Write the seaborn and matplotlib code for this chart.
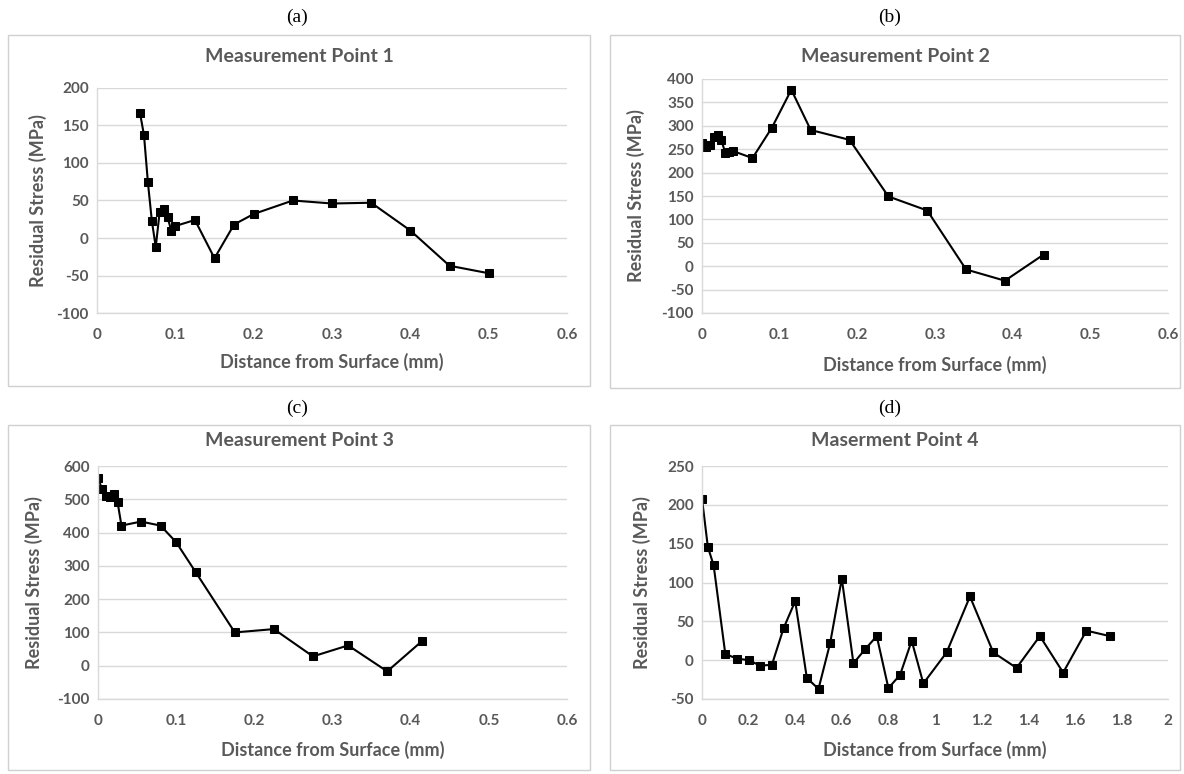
import matplotlib
matplotlib.use("Agg")
import matplotlib.pyplot as plt
import seaborn as sns
import pandas as pd
from matplotlib.patches import Rectangle

# ---------------- data ----------------
a_x = [0.055, 0.06, 0.065, 0.07, 0.075, 0.08, 0.085, 0.09, 0.095, 0.1,
       0.125, 0.15, 0.175, 0.2, 0.25, 0.3, 0.35, 0.4, 0.45, 0.5]
a_y = [166, 137, 74, 23, -12, 35, 38, 28, 9, 16,
       24, -27, 18, 32, 50, 46, 47, 10, -37, -47]

b_x = [0.0, 0.005, 0.01, 0.015, 0.02, 0.025, 0.03, 0.035, 0.04, 0.065,
       0.09, 0.115, 0.14, 0.19, 0.24, 0.29, 0.34, 0.39, 0.44]
b_y = [264, 254, 260, 277, 280, 269, 242, 245, 246, 231,
       296, 377, 291, 270, 149, 119, -7, -31, 25]

c_x = [0.0, 0.005, 0.01, 0.015, 0.02, 0.025, 0.03, 0.055, 0.08, 0.1,
       0.125, 0.175, 0.225, 0.275, 0.32, 0.37, 0.415]
c_y = [563, 532, 510, 508, 516, 492, 421, 433, 421, 371,
       281, 100, 110, 28, 61, -17, 75]

d_x = [0.0, 0.025, 0.05, 0.1, 0.15, 0.2, 0.25, 0.3, 0.35, 0.4,
       0.45, 0.5, 0.55, 0.6, 0.65, 0.7, 0.75, 0.8, 0.85, 0.9,
       0.95, 1.05, 1.15, 1.25, 1.35, 1.45, 1.55, 1.65, 1.75]
d_y = [208, 146, 122, 8, 2, 0, -7, -6, 41, 76,
       -23, -37, 22, 105, -4, 14, 31, -36, -19, 25,
       -30, 10, 82, 10, -10, 31, -16, 38, 31]

titles = ["Measurement Point 1", "Measurement Point 2",
          "Measurement Point 3", "Maserment Point 4"]
panel_tags = ["(a)", "(b)", "(c)", "(d)"]
x_label = "Distance from Surface (mm)"
y_label = "Residual Stress (MPa)"

x_ticks_small = [0, 0.1, 0.2, 0.3, 0.4, 0.5, 0.6]
x_tick_labels_small = ["0", "0.1", "0.2", "0.3", "0.4", "0.5", "0.6"]
x_ticks_d = [0, 0.2, 0.4, 0.6, 0.8, 1.0, 1.2, 1.4, 1.6, 1.8, 2.0]
x_tick_labels_d = ["0", "0.2", "0.4", "0.6", "0.8", "1", "1.2", "1.4", "1.6", "1.8", "2"]

y_ticks_a = [-100, -50, 0, 50, 100, 150, 200]
y_ticks_b = [-100, -50, 0, 50, 100, 150, 200, 250, 300, 350, 400]
y_ticks_c = [-100, 0, 100, 200, 300, 400, 500, 600]
y_ticks_d = [-50, 0, 50, 100, 150, 200, 250]

# ---------------- figure ----------------
sns.set_theme(style="white")
plt.rcParams["font.family"] = ["Lato", "DejaVu Sans"]

W, H = 1184, 774
fig = plt.figure(figsize=(W / 100, H / 100), dpi=100)
fig.patch.set_facecolor("white")

GREY = "#595959"
GRID = "#d9d9d9"


def px_axes(l, t, r, b):
    return fig.add_axes([l / W, 1 - b / H, (r - l) / W, (b - t) / H])


def frame(l, t, r, b):
    fig.patches.append(Rectangle((l / W, 1 - b / H), (r - l) / W, (b - t) / H,
                                 transform=fig.transFigure, fill=False,
                                 edgecolor="#d0d0d0", linewidth=1.0))


panels = [
    dict(x=a_x, y=a_y, box=(97, 88, 567, 313), frame=(8, 35, 590, 386),
         xt=x_ticks_small, xtl=x_tick_labels_small, xlim=(0, 0.6),
         yt=y_ticks_a, ylim=(-100, 200), title_y=57, tag_y=17, tag_x=297,
         xlab_y=362, ylab_x=38),
    dict(x=b_x, y=b_y, box=(702, 79, 1168, 313), frame=(610, 35, 1180, 388),
         xt=x_ticks_small, xtl=x_tick_labels_small, xlim=(0, 0.6),
         yt=y_ticks_b, ylim=(-100, 400), title_y=57, tag_y=17, tag_x=890,
         xlab_y=365, ylab_x=636),
    dict(x=c_x, y=c_y, box=(98, 466, 567, 699), frame=(8, 425, 590, 770),
         xt=x_ticks_small, xtl=x_tick_labels_small, xlim=(0, 0.6),
         yt=y_ticks_c, ylim=(-100, 600), title_y=441, tag_y=408, tag_x=297,
         xlab_y=750, ylab_x=34),
    dict(x=d_x, y=d_y, box=(702, 466, 1168, 699), frame=(610, 425, 1180, 770),
         xt=x_ticks_d, xtl=x_tick_labels_d, xlim=(0, 2.0),
         yt=y_ticks_d, ylim=(-50, 250), title_y=441, tag_y=408, tag_x=890,
         xlab_y=750, ylab_x=642),
]

for i, p in enumerate(panels):
    frame(*p["frame"])
    ax = px_axes(*p["box"])
    df = pd.DataFrame({"x": p["x"], "y": p["y"]})
    sns.lineplot(data=df, x="x", y="y", ax=ax, sort=False, estimator=None,
                 color="black", linewidth=1.5, marker="s", markersize=5.5,
                 markeredgecolor="black", markerfacecolor="black")
    ax.set_xlim(*p["xlim"])
    ax.set_ylim(*p["ylim"])
    ax.set_xticks(p["xt"])
    ax.set_xticklabels(p["xtl"])
    ax.set_yticks(p["yt"])
    ax.set_yticklabels([str(v) for v in p["yt"]])
    ax.grid(axis="y", color=GRID, linewidth=1.0)
    ax.grid(axis="x", visible=False)
    ax.set_axisbelow(True)
    for s in ["top", "right"]:
        ax.spines[s].set_visible(False)
    for s in ["left", "bottom"]:
        ax.spines[s].set_color(GRID)
        ax.spines[s].set_linewidth(1.0)
    ax.tick_params(axis="both", length=0, labelsize=11, labelcolor=GREY)
    ax.tick_params(axis="x", pad=11)
    ax.tick_params(axis="y", pad=6)
    for lab in ax.get_xticklabels() + ax.get_yticklabels():
        lab.set_fontweight("bold")
    ax.set_xlabel("")
    ax.set_ylabel("")
    l, t, r, b = p["box"]
    fl, ft, fr, fb = p["frame"]
    cx = (l + r) / 2
    fig.text(((fl + fr) / 2) / W, 1 - p["title_y"] / H, titles[i], ha="center",
             va="center", fontsize=14, fontweight="bold", color=GREY)
    fig.text(cx / W, 1 - p["xlab_y"] / H, x_label, ha="center", va="center",
             fontsize=13, fontweight="bold", color=GREY)
    fig.text(p["ylab_x"] / W, 1 - ((t + b) / 2) / H, y_label, ha="center",
             va="center", rotation=90, fontsize=13, fontweight="bold",
             color=GREY)
    fig.text(p["tag_x"] / W, 1 - p["tag_y"] / H, panel_tags[i], ha="center",
             va="center", fontsize=14, family="Liberation Serif",
             color="black")

fig.savefig("out.png", dpi=100, facecolor="white")
